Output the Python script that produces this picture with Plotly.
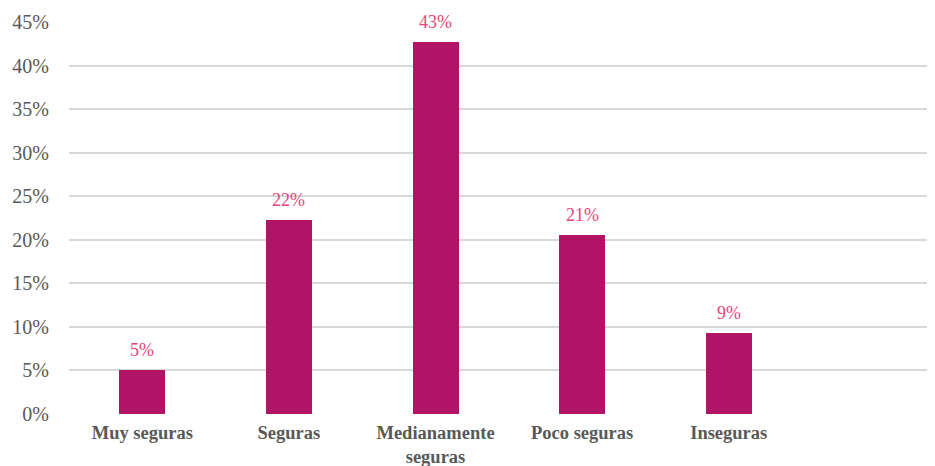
import plotly.graph_objects as go

categories = ["Muy seguras", "Seguras", "Medianamente<br>seguras", "Poco seguras", "Inseguras"]
values = [0.050, 0.223, 0.427, 0.206, 0.093]
labels = ["5%", "22%", "43%", "21%", "9%"]
y_ticks = [0, 0.05, 0.10, 0.15, 0.20, 0.25, 0.30, 0.35, 0.40, 0.45]
y_tick_text = ["0%", "5%", "10%", "15%", "20%", "25%", "30%", "35%", "40%", "45%"]

fig = go.Figure()
fig.add_trace(go.Bar(
    x=categories, y=values, width=0.314,
    marker=dict(color="#B11467", line=dict(width=0)),
    hoverinfo="skip",
))
for c, v, t in zip(categories, values, labels):
    fig.add_annotation(x=c, y=v, text=t, showarrow=False, yanchor="bottom", yshift=8,
                       font=dict(family="Liberation Serif", size=18, color="#E8457A"))

# page body has an 8px margin, so the figure is sized to fit the window
fig.update_layout(
    width=927, height=458,
    margin=dict(l=61, r=0, t=14, b=52),
    paper_bgcolor="white", plot_bgcolor="white",
    showlegend=False, bargap=0,
    font=dict(family="Liberation Serif", color="#595959"),
    xaxis=dict(type="category", range=[-0.5, 5.407], showgrid=False, zeroline=False,
               showline=False, ticks="", automargin=False,
               tickfont=dict(family="Liberation Serif", size=18.5, color="#595959", weight="bold"),
               ticklabelstandoff=5),
    yaxis=dict(range=[0, 0.45], tickvals=y_ticks, ticktext=y_tick_text, showgrid=True,
               gridcolor="#D9D9D9", gridwidth=1.5, zeroline=False, showline=False, ticks="",
               automargin=False,
               tickfont=dict(family="Liberation Serif", size=20, color="#595959"),
               ticklabelstandoff=19),
)
fig.write_html("out.html")
